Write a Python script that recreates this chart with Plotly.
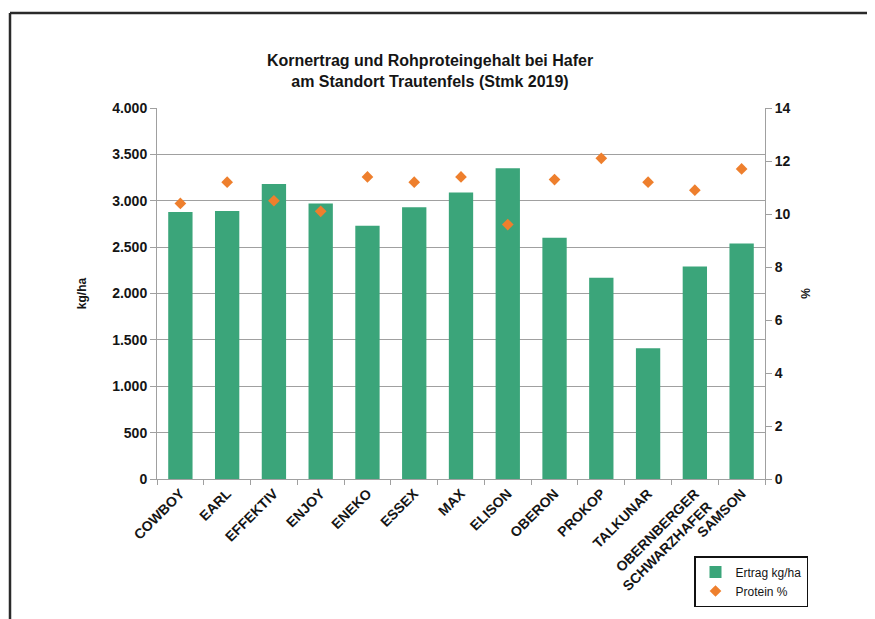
import plotly.graph_objects as go

categories = ["COWBOY", "EARL", "EFFEKTIV", "ENJOY", "ENEKO", "ESSEX", "MAX",
              "ELISON", "OBERON", "PROKOP", "TALKUNAR",
              "OBERNBERGER<br>SCHWARZHAFER", "SAMSON"]
ertrag = [2880, 2890, 3180, 2970, 2730, 2930, 3090, 3350, 2600, 2170, 1410, 2290, 2540]
protein = [10.4, 11.2, 10.5, 10.1, 11.4, 11.2, 11.4, 9.6, 11.3, 12.1, 11.2, 10.9, 11.7]

left_ticks = [0, 500, 1000, 1500, 2000, 2500, 3000, 3500, 4000]
right_ticks = [0, 2, 4, 6, 8, 10, 12, 14]

OFF = 8  # page body margin
W, H = 875 - OFF, 619 - OFF
L, R, T, B = 157 - OFF, 765 - OFF, 108 - OFF, 479 - OFF

font_fam = "Liberation Sans, Arial, sans-serif"
grey = "#a0a0a0"
txt = "#151515"

fig = go.Figure()
fig.add_trace(go.Bar(x=categories, y=ertrag, name="Ertrag kg/ha",
                     marker=dict(color="#3BA57A", line=dict(width=0)),
                     width=0.52, yaxis="y"))
fig.add_trace(go.Scatter(x=categories, y=protein, name="Protein %", mode="markers",
                         marker=dict(symbol="diamond", size=9, color="#EE7F2D"),
                         yaxis="y2"))

def px_x(p):
    return (p - OFF - L) / (R - L)

def px_y(p):
    return (B - (p - OFF)) / (B - T)

fx = px_x(10)
fy = px_y(13)
fig.add_shape(type="line", xref="paper", yref="paper", x0=fx, x1=px_x(900), y0=fy, y1=fy,
              line=dict(color="#2a2a2a", width=2.5))
fig.add_shape(type="line", xref="paper", yref="paper", x0=fx, x1=fx, y0=fy, y1=px_y(640),
              line=dict(color="#2a2a2a", width=2.5))

fig.update_layout(
    width=W, height=H,
    margin=dict(l=L, r=W - R, t=T, b=H - B, pad=0),
    paper_bgcolor="white", plot_bgcolor="white",
    separators=",.",
    font=dict(family=font_fam, color=txt, size=12),
    title=dict(text="<b>Kornertrag und Rohproteingehalt bei Hafer<br>am Standort Trautenfels (Stmk 2019)</b>",
               x=(430 - OFF) / W, xref="container", xanchor="center",
               y=1 - (66 - OFF) / H, yref="container", yanchor="middle",
               font=dict(size=16, color=txt, family=font_fam)),
    bargap=0.48,
    showlegend=True,
    legend=dict(x=px_x(808), xanchor="right", y=px_y(556), yanchor="top",
                bordercolor="#111111", borderwidth=1.5, bgcolor="white",
                font=dict(size=12, color=txt),
                itemwidth=30, tracegroupgap=0),
    xaxis=dict(showline=True, linecolor=grey, linewidth=1,
               ticks="outside", tickson="boundaries", ticklen=5, tickcolor=grey,
               tickangle=-45, tickfont=dict(size=14, color=txt, weight="bold"),
               showgrid=False, range=[-0.5, 12.5]),
    yaxis=dict(range=[0, 4000], tickvals=left_ticks, tickformat=",d",
               showline=True, linecolor=grey, linewidth=1,
               ticks="outside", ticklen=6, tickcolor=grey,
               showgrid=True, gridcolor=grey, gridwidth=1,
               zeroline=False,
               tickfont=dict(size=14, color=txt, weight="bold"),
               title=dict(text="<b>kg/ha</b>", font=dict(size=12, color=txt), standoff=22)),
    yaxis2=dict(range=[0, 14], tickvals=right_ticks, overlaying="y", side="right",
                showline=True, linecolor=grey, linewidth=1,
                ticks="outside", ticklen=6, tickcolor=grey,
                showgrid=False, zeroline=False,
                tickfont=dict(size=14, color=txt, weight="bold"),
                title=dict(text="<b>%</b>", font=dict(size=12, color=txt), standoff=12)),
)

fig.write_html("out.html")
